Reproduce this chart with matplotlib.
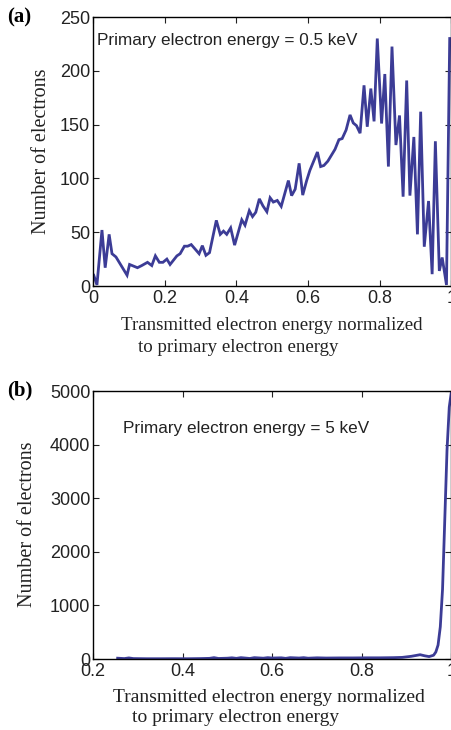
import numpy as np
import matplotlib
matplotlib.use('Agg')
import matplotlib.pyplot as plt

# (a) 0.5 keV primary beam
energy_a = [0.002, 0.011, 0.025, 0.034, 0.045, 0.053, 0.064, 0.095, 0.102, 0.124,
            0.136, 0.152, 0.164, 0.174, 0.185, 0.195, 0.206, 0.215, 0.234, 0.243,
            0.255, 0.264, 0.274, 0.296, 0.305, 0.315, 0.325, 0.344, 0.355, 0.364,
            0.373, 0.384, 0.395, 0.415, 0.424, 0.436, 0.445, 0.454, 0.464, 0.474,
            0.485, 0.494, 0.503, 0.514, 0.525, 0.545, 0.554, 0.564, 0.575, 0.585,
            0.596, 0.605, 0.626, 0.635, 0.644, 0.655, 0.675, 0.686, 0.695, 0.706,
            0.717, 0.726, 0.735, 0.745, 0.756, 0.765, 0.775, 0.784, 0.793, 0.805,
            0.814, 0.824, 0.834, 0.845, 0.855, 0.865, 0.875, 0.884, 0.895, 0.905,
            0.914, 0.924, 0.936, 0.946, 0.955, 0.966, 0.974, 0.986, 0.995]
counts_a = [10, 1, 52, 17, 48, 30, 27, 10, 20, 17,
            19, 22, 19, 28, 22, 22, 25, 20, 28, 30,
            37, 37, 38.5, 30, 37.5, 28.5, 31, 61, 48, 51,
            48, 54, 38, 61.5, 56.5, 70, 64.5, 68.5, 81, 74.5,
            69, 82, 78, 79.5, 74, 98, 84, 90, 114, 84.5,
            98, 107.5, 124.5, 111, 112, 116, 127, 136, 137, 145,
            159, 151.5, 149, 142, 186.5, 148, 183.5, 153, 230, 151,
            197, 111, 222.5, 131, 158.5, 83, 191, 84, 138.5, 48,
            162, 36.5, 79, 11, 134.5, 14, 26.5, 1, 230]

# (b) 5 keV primary beam
energy_b = [0.255, 0.27, 0.28, 0.29, 0.32, 0.35, 0.38, 0.41, 0.44, 0.46,
            0.47, 0.48, 0.50, 0.51, 0.52, 0.53, 0.55, 0.56, 0.58, 0.59,
            0.60, 0.62, 0.63, 0.64, 0.66, 0.67, 0.68, 0.70, 0.72, 0.75,
            0.78, 0.81, 0.84, 0.87, 0.89, 0.90, 0.91, 0.92, 0.93, 0.94,
            0.95, 0.96, 0.965, 0.97, 0.975, 0.98, 0.985, 0.99, 0.995, 1.0]
counts_b = [15, 8, 20, 8, 5, 5, 6, 5, 8, 12,
            25, 10, 15, 22, 12, 25, 10, 25, 15, 25,
            18, 22, 12, 25, 18, 25, 15, 22, 18, 20,
            20, 22, 22, 25, 30, 40, 50, 65, 80, 60,
            45, 70, 130, 260, 600, 1300, 2600, 3900, 4700, 5000]

line_color = '#3c3c96'
tick_font = 'Liberation Sans'
serif_font = 'Liberation Serif'

fig = plt.figure(figsize=(4.52, 7.30), dpi=100)
W, H = 452.0, 730.0


def make_axes(left, top, right, bottom):
    return fig.add_axes([left / W, 1 - bottom / H, (right - left) / W, (bottom - top) / H])


def px(x, y):
    # pixel position from the top-left corner -> figure fraction
    return x / W, 1 - y / H


def style(ax):
    ax.tick_params(direction='in', length=4, width=0.8, top=True, right=True,
                   labelsize=13, colors='#222222', pad=2)
    ax.tick_params(axis='x', pad=3)
    for lab in ax.get_xticklabels() + ax.get_yticklabels():
        lab.set_fontfamily(tick_font)
    for sp in ax.spines.values():
        sp.set_linewidth(1.0)
        sp.set_color('black')


# panel (a)
ax1 = make_axes(93, 17, 451.5, 286)
ax1.plot(energy_a, counts_a, color=line_color, lw=2.0, solid_joinstyle='miter')
ax1.set_xlim(0, 1)
ax1.set_ylim(0, 250)
ax1.set_xticks([0, 0.2, 0.4, 0.6, 0.8, 1.0])
ax1.set_xticklabels(['0', '0.2', '0.4', '0.6', '0.8', '1'])
ax1.set_yticks([0, 50, 100, 150, 200, 250])
style(ax1)
fig.text(*px(97, 40), 'Primary electron energy = 0.5 keV',
         fontsize=12.3, family=tick_font, color='#222222', va='center', ha='left')

# panel (b)
ax2 = make_axes(93, 391, 451.5, 659)
ax2.plot(energy_b, counts_b, color=line_color, lw=2.0)
ax2.set_xlim(0.2, 1)
ax2.set_ylim(0, 5000)
ax2.set_xticks([0.2, 0.4, 0.6, 0.8, 1.0])
ax2.set_xticklabels(['0.2', '0.4', '0.6', '0.8', '1'])
ax2.set_yticks([0, 1000, 2000, 3000, 4000, 5000])
style(ax2)
fig.text(*px(123, 428), 'Primary electron energy = 5 keV',
         fontsize=12.3, family=tick_font, color='#222222', va='center', ha='left')

# serif axis labels
lab_kw = dict(family=serif_font, color='#222222')
fig.text(*px(42, 151), 'Number of electrons', rotation=90, ha='center', va='center',
         fontsize=14.5, **lab_kw)
fig.text(*px(28, 524), 'Number of electrons', rotation=90, ha='center', va='center',
         fontsize=14.5, **lab_kw)
fig.text(*px(121, 325), 'Transmitted electron energy normalized', ha='left', va='center',
         fontsize=13.6, **lab_kw)
fig.text(*px(138, 347), 'to primary electron energy', ha='left', va='center',
         fontsize=13.6, **lab_kw)
fig.text(*px(113, 697), 'Transmitted electron energy normalized', ha='left', va='center',
         fontsize=14, **lab_kw)
fig.text(*px(132, 718), 'to primary electron energy', ha='left', va='center',
         fontsize=14, **lab_kw)

fig.text(*px(7, 17), '(a)', family=serif_font, fontsize=15, fontweight='bold', ha='left', va='center')
fig.text(*px(7, 390), '(b)', family=serif_font, fontsize=15, fontweight='bold', ha='left', va='center')

fig.savefig('out.png', dpi=100)
